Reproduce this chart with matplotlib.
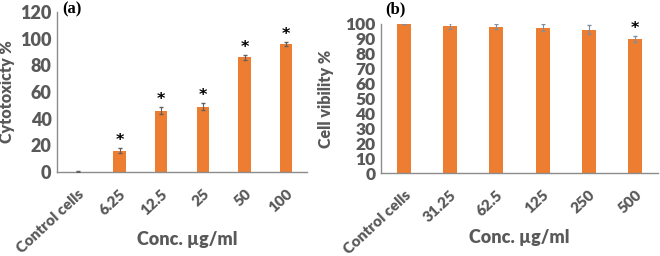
import matplotlib
matplotlib.use("Agg")
import matplotlib.pyplot as plt
import numpy as np

cats_a = ["Control cells", "6.25", "12.5", "25", "50", "100"]
vals_a = [0.3, 16, 46, 49, 86, 96]
err_a = [0.3, 2, 2.5, 2.5, 2, 1.5]
star_a = [False, True, True, True, True, True]

cats_b = ["Control cells", "31.25", "62.5", "125", "250", "500"]
vals_b = [100, 98.5, 98.2, 97.5, 96, 90]
err_b = [0.3, 2, 1.5, 2.2, 3, 2]
star_b = [False, False, False, False, False, True]

ORANGE = "#ED7D31"
GREY = "#595959"
SPINE = "#8C8C8C"

plt.rcParams['font.family'] = ['Lato', 'DejaVu Sans']

fig = plt.figure(figsize=(6.6, 2.56), dpi=100)
W, H = 660, 256

def make_ax(l, r, b, t):
    return fig.add_axes([l / W, 1 - b / H, (r - l) / W, (b - t) / H])

def style(ax, cats, ylabel, yticks, ylim, xl, yl, ylx, ysize):
    ax.set_ylim(*ylim)
    ax.set_xlim(-0.5, len(cats) - 0.5)
    ax.set_yticks(yticks)
    ax.set_xticks(range(len(cats)))
    ax.set_xticklabels(cats, rotation=43, ha="right", rotation_mode="anchor")
    for s in ["top", "right"]:
        ax.spines[s].set_visible(False)
    for s in ["left", "bottom"]:
        ax.spines[s].set_color(SPINE)
        ax.spines[s].set_linewidth(1.0)
    ax.tick_params(axis="x", length=0, labelsize=11, labelcolor=GREY, pad=11)
    ax.tick_params(axis="y", length=0, labelsize=ysize, labelcolor=GREY, pad=4)
    for lab in ax.get_xticklabels() + ax.get_yticklabels():
        lab.set_fontweight("heavy")
    ax.set_ylabel(ylabel, fontsize=11.5, fontweight="heavy", color=GREY)
    ax.yaxis.set_label_coords(ylx, 0.5)
    ax.set_xlabel("Conc. µg/ml", fontsize=13, fontweight="heavy", color=GREY)
    ax.xaxis.set_label_coords(xl, yl)
    ax.xaxis.label.set_va("center")

def stars(ax, x, vals, errs, flags, off):
    for xi, v, e, s in zip(x, vals, errs, flags):
        if s:
            ax.text(xi, v + e + off, "*", ha="center", va="bottom", fontsize=11.5,
                    fontweight="bold", color="black", family=["DejaVu Sans"])

# Panel (a)
ax1 = make_ax(57, 307, 172, 12)
x = np.arange(len(cats_a))
ax1.bar(x, vals_a, width=0.3, color=ORANGE, zorder=2)
ax1.errorbar(x, vals_a, yerr=err_a, fmt="none", ecolor="#606060", elinewidth=0.8, capsize=1.5, zorder=3)
stars(ax1, x, vals_a, err_a, star_a, 0.0)
style(ax1, cats_a, "Cytotoxicty %", np.arange(0, 121, 20), (0, 120), 0.52, -0.425, -0.168, 13)
ax1.text(62 / W, 1 - 9 / H, "(a)", transform=fig.transFigure, fontsize=12, fontweight="bold",
         family=["Liberation Serif", "DejaVu Serif"], va="center", ha="left")

# Panel (b)
ax2 = make_ax(381, 658, 173, 24)
x = np.arange(len(cats_b))
ax2.bar(x, vals_b, width=0.3, color=ORANGE, zorder=2)
ax2.errorbar(x, vals_b, yerr=err_b, fmt="none", ecolor="#7f8fa0", elinewidth=0.8, capsize=1.5, zorder=3)
stars(ax2, x, vals_b, err_b, star_b, 0.0)
style(ax2, cats_b, "Cell vibility %", np.arange(0, 101, 10), (0, 100), 0.5, -0.43, -0.17, 12.5)
ax2.text(385 / W, 1 - 9 / H, "(b)", transform=fig.transFigure, fontsize=12, fontweight="bold",
         family=["Liberation Serif", "DejaVu Serif"], va="center", ha="left")

fig.savefig("out.png", dpi=100)
